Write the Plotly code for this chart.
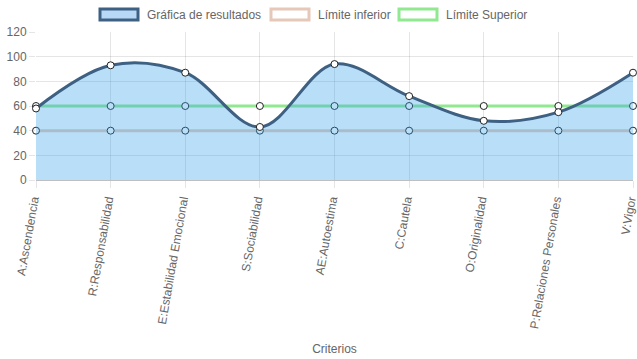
import plotly.graph_objects as go

categories = ["A:Ascendencia", "R:Responsabilidad", "E:Estabilidad Emocional",
              "S:Sociabilidad", "AE:Autoestima", "C:Cautela", "O:Originalidad",
              "P:Relaciones Personales", "V:Vigor"]
resultados = [58, 93, 87, 43, 94, 68, 48, 55, 87]
limite_inferior = [40, 40, 40, 40, 40, 40, 40, 40, 40]
limite_superior = [60, 60, 60, 60, 60, 60, 60, 60, 60]
y_ticks = [0, 20, 40, 60, 80, 100, 120]

FONT = "Liberation Sans, Arial, Helvetica, sans-serif"
GRAY = "#666666"
DARK = "rgb(62,96,130)"
FILL = "rgba(54,162,235,0.35)"
INF = "rgba(232,196,180,0.9)"
SUP = "rgb(144,232,144)"

L, R, T, B = 36, 4, 32, 179
W, H = 637, 359
PW, PH = W - L - R, H - T - B

marker = dict(size=7, color="white", line=dict(color="#222222", width=1))

fig = go.Figure()
fig.add_trace(go.Scatter(x=categories, y=limite_superior, mode="lines+markers",
                         name="Límite Superior", line=dict(color=SUP, width=3),
                         marker=marker, cliponaxis=False))
fig.add_trace(go.Scatter(x=categories, y=limite_inferior, mode="lines+markers",
                         name="Límite inferior", line=dict(color=INF, width=3),
                         marker=marker, cliponaxis=False))
fig.add_trace(go.Scatter(x=categories, y=resultados, mode="lines+markers",
                         name="Gráfica de resultados",
                         line=dict(color=DARK, width=3, shape="spline", smoothing=1.0),
                         fill="tozeroy", fillcolor=FILL,
                         marker=marker, cliponaxis=False))

def px_x(px):
    return (px - L) / PW

def px_y(py):
    return (H - B - py) / PH

# custom legend (Chart.js style boxes)
legend_items = [
    ("Gráfica de resultados", DARK, "rgba(184,216,248,1)", 99),
    ("Límite inferior", "rgb(230,200,185)", "white", 270),
    ("Límite Superior", SUP, "white", 398),
]
for text, border, fillc, x0 in legend_items:
    fig.add_shape(type="rect", xref="paper", yref="paper",
                  x0=px_x(x0 + 1), x1=px_x(x0 + 39),
                  y0=px_y(20), y1=px_y(9),
                  line=dict(color=border, width=3), fillcolor=fillc, layer="above")
    fig.add_annotation(text=text, xref="paper", yref="paper",
                       x=px_x(x0 + 46), y=px_y(15),
                       xanchor="left", yanchor="middle", showarrow=False,
                       font=dict(size=12, color=GRAY, family=FONT))

fig.update_layout(
    width=W, height=H,
    margin=dict(l=L, r=R, t=T, b=B, autoexpand=False),
    paper_bgcolor="white", plot_bgcolor="white",
    font=dict(family=FONT, size=12, color=GRAY),
    showlegend=False,
    xaxis=dict(
        type="category", range=[0, len(categories) - 1], automargin=False,
        showgrid=True, gridcolor="rgba(0,0,0,0.1)", gridwidth=1,
        ticks="outside", ticklen=7, tickcolor="rgba(0,0,0,0.1)",
        tickangle=-80, tickfont=dict(size=12, color=GRAY), ticklabelshift=-3,
        showline=False, zeroline=False,
        title=dict(text="Criterios", font=dict(size=12, color=GRAY), standoff=15),
    ),
    yaxis=dict(
        range=[0, 120], tickvals=y_ticks, automargin=False,
        showgrid=True, gridcolor="rgba(0,0,0,0.1)", gridwidth=1,
        ticks="outside", ticklen=6, tickcolor="rgba(0,0,0,0.1)",
        zeroline=True, zerolinecolor="rgba(0,0,0,0.25)", zerolinewidth=1,
        showline=False, tickfont=dict(size=12, color=GRAY),
    ),
)

fig.write_html("out.html", config={"displayModeBar": False},
               post_script="document.body.style.margin='0';document.body.style.overflow='hidden';")
